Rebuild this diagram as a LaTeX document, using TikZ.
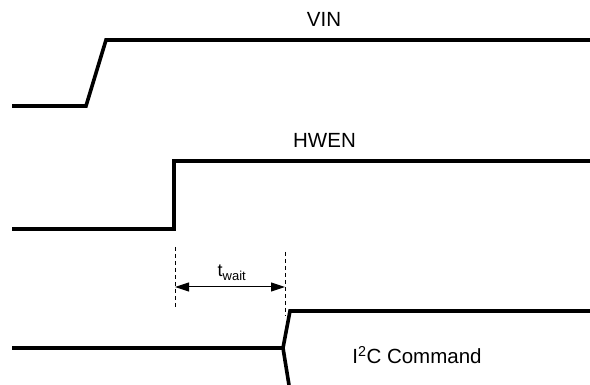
\documentclass[tikz,border=0pt]{standalone}
\usepackage{fontspec}
\setmainfont{Liberation Sans}
\usetikzlibrary{arrows.meta}
\begin{document}
\begin{tikzpicture}[x=1pt,y=-1pt,
  wave/.style={line width=3.6pt,line join=miter},
  guide/.style={dashed,line width=1pt,dash pattern=on 4.5pt off 2.5pt},
  dim/.style={line width=1pt,{Triangle[length=14pt,width=9pt]}-{Triangle[length=14pt,width=9pt]}},
  lbl/.style={font=\fontsize{20.5}{24}\selectfont,inner sep=0pt}]
\useasboundingbox (0,0) rectangle (590,385);
% VIN
\coordinate (v0) at (12,106);
\coordinate (v1) at (86,106);
\coordinate (v2) at (106,40);
\coordinate (v3) at (590,40);
\draw[wave] (v0) -- (v1) -- (v2) -- (v3);
\node[lbl] (vin) at (324,19.5) {VIN};
% HWEN
\coordinate (h0) at (12,229);
\coordinate (h1) at (174,229);
\coordinate (h2) at (174,161);
\coordinate (h3) at (590,161);
\draw[wave] (h0) -- (h1) -- (h2) -- (h3);
\node[lbl] (hwen) at (324.5,140.5) {HWEN};
% guides
\coordinate (d1a) at (175,247);
\coordinate (d1b) at (175,310);
\coordinate (d2a) at (285,252);
\coordinate (d2b) at (285,316);
\draw[guide] (d1a) -- (d1b);
\draw[guide] (d2a) -- (d2b);
\coordinate (a1) at (175,287);
\coordinate (a2) at (285,287);
\draw[dim] (a1) -- (a2);
\node[lbl,font=\fontsize{18}{20}\selectfont,anchor=base] (tw) at (232,277) {t\textsubscript{\fontsize{13}{14}\selectfont wait}};
% I2C
\coordinate (i0) at (12,348);
\coordinate (i1) at (283,348);
\coordinate (i2) at (290,311);
\coordinate (i3) at (590,311);
\coordinate (i4) at (289,385);
\draw[wave] (i0) -- (i1) -- (i2) -- (i3);
\draw[wave] (i1) -- (i4);
\node[lbl] (i2c) at (417,355) {I\textsuperscript{2}C Command};
\end{tikzpicture}
\end{document}
